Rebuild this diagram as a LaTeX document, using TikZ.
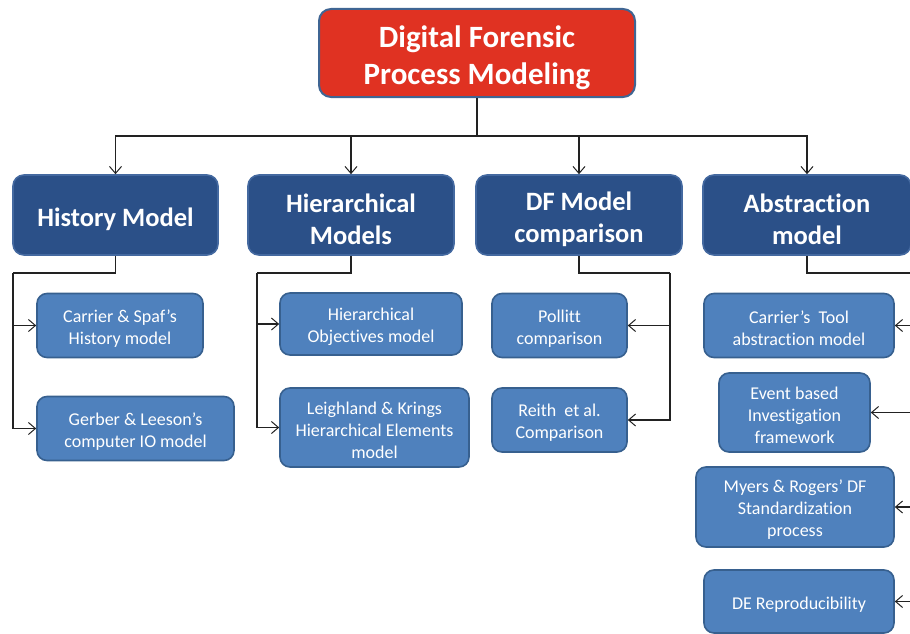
\documentclass[tikz,border=0pt]{standalone}
\usepackage{fontspec}
\setmainfont{Carlito}[Ligatures=NoCommon]
\usetikzlibrary{arrows.meta}
\definecolor{rootfill}{HTML}{E03222}
\definecolor{rootedge}{HTML}{3F6593}
\definecolor{catfill}{HTML}{2B5088}
\definecolor{catedge}{HTML}{4469A0}
\definecolor{leaffill}{HTML}{4F81BD}
\definecolor{leafedge}{HTML}{37608F}
\definecolor{wire}{HTML}{222222}
% invisible strut that lowers the text block slightly inside its box
\newcommand\lowerstrut{\rule{0pt}{1em}}
\tikzset{
  boxtext/.style={text=white, align=center, inner sep=0pt},
  rootbox/.style={boxtext, draw=rootedge, line width=2pt, fill=rootfill, rounded corners=12pt,
    font=\fontsize{31}{37}\selectfont\bfseries},
  catbox/.style={boxtext, draw=catedge, line width=1.6pt, fill=catfill, rounded corners=11pt,
    font=\fontsize{26.5}{32}\selectfont\bfseries},
  leafbox/.style={boxtext, draw=leafedge, line width=1.6pt, fill=leaffill, rounded corners=10pt,
    font=\fontsize{18}{22}\selectfont},
  wireline/.style={draw=wire, line width=1.2pt},
  trunk/.style={draw=wire, line width=2pt},
  arrowline/.style={wireline, -{Straight Barb[length=7pt,width=12pt,line width=1pt]}},
}
\begin{document}
\begin{tikzpicture}[x=1pt,y=-1pt]
\useasboundingbox (0,0) rectangle (910,634);

% root
\node[rootbox, minimum width=316, minimum height=88] (root) at (477,53)
  {\lowerstrut Digital Forensic\\Process Modeling};

% categories
\node[catbox, minimum width=205, minimum height=80] (hist) at (115.5,215) {\lowerstrut History Model};
\node[catbox, minimum width=206, minimum height=80] (hier) at (351,215) {\lowerstrut Hierarchical\\Models};
\node[catbox, minimum width=206, minimum height=80] (dfm) at (579,215) {\lowerstrut DF Model\\comparison};
\node[catbox, minimum width=208, minimum height=80] (abs) at (807,215) {\lowerstrut Abstraction\\model};

% history branch
\node[leafbox, minimum width=166, minimum height=64] (carrier) at (120,325.5) {\lowerstrut Carrier \& Spaf’s\\History model};
\node[leafbox, minimum width=197, minimum height=64] (gerber) at (135.5,428.5) {\lowerstrut Gerber \& Leeson’s\\computer IO model};

% hierarchical branch
\node[leafbox, minimum width=182, minimum height=62] (hobj) at (371,324) {\lowerstrut Hierarchical\\Objectives model};
\node[leafbox, minimum width=189, minimum height=79] (leigh) at (374.5,427.5) {\lowerstrut Leighland \& Krings\\Hierarchical Elements\\model};

% comparison branch
\node[leafbox, minimum width=135, minimum height=64] (pollitt) at (559.5,325.5) {\lowerstrut Pollitt\\comparison};
\node[leafbox, minimum width=135, minimum height=64] (reith) at (559.5,420) {\lowerstrut Reith\ \ et al.\\Comparison};

% abstraction branch
\node[leafbox, minimum width=190, minimum height=64] (tool) at (799,325.5) {\lowerstrut Carrier’s\ \ Tool\\abstraction model};
\node[leafbox, minimum width=151, minimum height=79] (event) at (794.5,412.5) {\lowerstrut Event based\\Investigation\\framework};
\node[leafbox, minimum width=198, minimum height=80] (myers) at (795,507) {\lowerstrut Myers \& Rogers’ DF\\Standardization\\process};
\node[leafbox, minimum width=190, minimum height=63] (derep) at (799,601.5) {\lowerstrut DE Reproducibility};

% root to categories
\coordinate (bus) at (477,136);
\draw[trunk] (root.south) -- (bus);
\draw[wireline] (116,136) -- (807,136);
\foreach \c in {hist,hier,dfm,abs}
  \draw[arrowline] (bus) -| (\c.north);

% history links
\coordinate (hA) at (13,273);
\draw[wireline] (hist.south) |- (hA);
\draw[arrowline] (hA) |- (carrier.west);
\draw[arrowline] (hA) |- (gerber.west);

% hierarchical links
\coordinate (hB) at (257,273);
\draw[wireline] (hier.south) |- (hB);
\draw[arrowline] (hB) |- (hobj.west);
\draw[arrowline] (hB) |- (leigh.west);

% comparison links
\coordinate (dA) at (670,273);
\draw[wireline] (dfm.south) |- (dA);
\draw[arrowline] (dA) |- (pollitt.east);
\draw[arrowline] (dA) |- (reith.east);

% abstraction links
\coordinate (aA) at (930,273);
\draw[wireline] (abs.south) |- (aA);
\draw[arrowline] (aA) |- (tool.east);
\draw[arrowline] (aA) |- (event.east);
\draw[arrowline] (aA) |- (myers.east);
\draw[arrowline] (aA) |- (derep.east);
\end{tikzpicture}
\end{document}
